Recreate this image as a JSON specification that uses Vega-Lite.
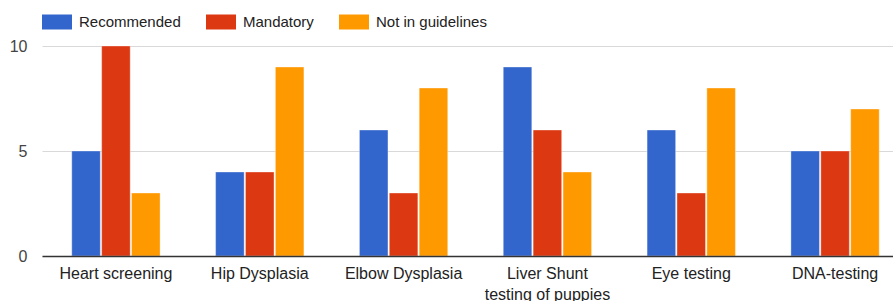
{
  "$schema": "https://vega.github.io/schema/vega-lite/v6.json",
  "width": 867,
  "height": 210,
  "autosize": {"type": "none"},
  "padding": {"left": 42, "top": 46, "right": 10, "bottom": 45},
  "background": "white",
  "data": {
    "values": [
      {"category": "Heart screening", "series": "Recommended", "value": 5},
      {"category": "Heart screening", "series": "Mandatory", "value": 10},
      {"category": "Heart screening", "series": "Not in guidelines", "value": 3},
      {"category": "Hip Dysplasia", "series": "Recommended", "value": 4},
      {"category": "Hip Dysplasia", "series": "Mandatory", "value": 4},
      {"category": "Hip Dysplasia", "series": "Not in guidelines", "value": 9},
      {"category": "Elbow Dysplasia", "series": "Recommended", "value": 6},
      {"category": "Elbow Dysplasia", "series": "Mandatory", "value": 3},
      {"category": "Elbow Dysplasia", "series": "Not in guidelines", "value": 8},
      {"category": "Liver Shunt testing of puppies", "series": "Recommended", "value": 9},
      {"category": "Liver Shunt testing of puppies", "series": "Mandatory", "value": 6},
      {"category": "Liver Shunt testing of puppies", "series": "Not in guidelines", "value": 4},
      {"category": "Eye testing", "series": "Recommended", "value": 6},
      {"category": "Eye testing", "series": "Mandatory", "value": 3},
      {"category": "Eye testing", "series": "Not in guidelines", "value": 8},
      {"category": "DNA-testing", "series": "Recommended", "value": 5},
      {"category": "DNA-testing", "series": "Mandatory", "value": 5},
      {"category": "DNA-testing", "series": "Not in guidelines", "value": 7}
    ]
  },
  "mark": {"type": "bar", "stroke": "white", "strokeOpacity": 0.35, "strokeWidth": 1},
  "encoding": {
    "x": {
      "field": "category",
      "type": "nominal",
      "sort": null,
      "scale": {"paddingInner": 0.386, "paddingOuter": 0.207},
      "axis": {
        "title": null,
        "labelAngle": 0,
        "ticks": false,
        "domain": true,
        "domainColor": "#333333",
        "domainWidth": 1.5,
        "labelPadding": 9,
        "labelFont": "Liberation Sans",
        "labelFontSize": 16,
        "labelColor": "#222222",
        "labelLineHeight": 21,
        "labelLimit": 300,
        "zindex": 1,
        "labelExpr": "datum.label == 'Liver Shunt testing of puppies' ? ['Liver Shunt', 'testing of puppies'] : datum.label"
      }
    },
    "xOffset": {
      "field": "series",
      "type": "nominal",
      "sort": ["Recommended", "Mandatory", "Not in guidelines"],
      "scale": {"paddingInner": 0.045, "paddingOuter": 0}
    },
    "y": {
      "field": "value",
      "type": "quantitative",
      "scale": {"domain": [0, 10], "nice": false},
      "axis": {
        "title": null,
        "values": [0, 5, 10],
        "ticks": false,
        "domain": false,
        "grid": true,
        "gridColor": "#d9d9d9",
        "gridWidth": 1,
        "labelPadding": 15,
        "labelFont": "Liberation Sans",
        "labelFontSize": 16,
        "labelColor": "#444444"
      }
    },
    "color": {
      "field": "series",
      "type": "nominal",
      "sort": ["Recommended", "Mandatory", "Not in guidelines"],
      "scale": {
        "domain": ["Recommended", "Mandatory", "Not in guidelines"],
        "range": ["#3366cc", "#dc3912", "#ff9900"]
      },
      "legend": {
        "title": null,
        "orient": "none",
        "direction": "horizontal",
        "legendX": 0,
        "legendY": -39,
        "symbolType": "M-1,-0.5H1V0.5H-1Z",
        "symbolSize": 900,
        "symbolStrokeWidth": 0,
        "symbolOpacity": 1,
        "labelOffset": 7,
        "columnPadding": 25,
        "labelFont": "Liberation Sans",
        "labelFontSize": 15,
        "labelColor": "#222222",
        "labelLimit": 300
      }
    }
  },
  "config": {"view": {"stroke": null}}
}
